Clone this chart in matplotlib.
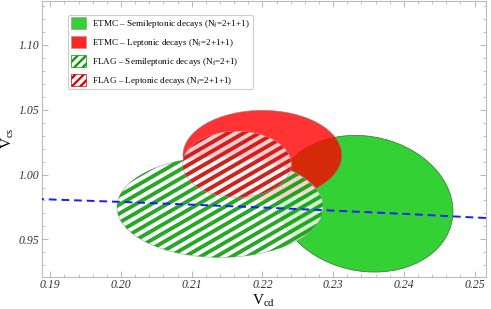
import numpy as np
import matplotlib
matplotlib.use("Agg")
import matplotlib.pyplot as plt
from matplotlib.patches import Ellipse, Patch
from matplotlib.collections import LineCollection
from matplotlib.transforms import Affine2D
from matplotlib.ticker import MultipleLocator

plt.rcParams['font.family'] = 'Liberation Serif'
plt.rcParams['mathtext.fontset'] = 'custom'
plt.rcParams['mathtext.rm'] = 'Liberation Serif'
plt.rcParams['mathtext.it'] = 'Liberation Serif:italic'
plt.rcParams['hatch.linewidth'] = 1.6

# regions: ETMC semileptonic, ETMC leptonic, FLAG semileptonic, FLAG leptonic
labels = [
    r'ETMC – Semileptonic decays (N$_{\rm f}$=2+1+1)',
    r'ETMC – Leptonic decays (N$_{\rm f}$=2+1+1)',
    r'FLAG – Semileptonic decays (N$_{\rm f}$=2+1)',
    r'FLAG – Leptonic decays (N$_{\rm f}$=2+1+1)',
]
centre_vcd = [0.2345, 0.2200, 0.2140, 0.2164]
centre_vcs = [0.9775, 1.0149, 0.9749, 1.0079]
half_vcd = [0.01245, 0.01124, 0.01457, 0.00768]
half_vcs = [0.0527, 0.0346, 0.0388, 0.0254]
corr = [-0.11, 0.0, 0.0, 0.0]

# unitarity curve
unit_vcd = [0.188, 0.19, 0.20, 0.21, 0.22, 0.23, 0.24, 0.25, 0.252]
unit_vcs = [0.9812, 0.9808, 0.9789, 0.9768, 0.9746, 0.9722, 0.9697, 0.9669, 0.9664]

green = '#33d133'
red = (1.0, 0.0, 0.0)
stripe_green = (0.0, 0.6, 0.0)
stripe_red = (0.8, 0.0, 0.0)


def region(ax, i, **kw):
    """Unit circle mapped onto the i-th error ellipse."""
    sx, sy, r = half_vcd[i], half_vcs[i], corr[i]
    m = Affine2D.from_values(sx, r*sy, 0, np.sqrt(1 - r**2)*sy, centre_vcd[i], centre_vcs[i])
    e = Ellipse((0, 0), 2, 2, transform=m + ax.transData, **kw)
    ax.add_patch(e)
    return e


def stripes(ax, patch, color, zorder, W=444., H=277., period=7.8, angle=30., lw=2.8):
    """Diagonal stripes clipped to patch (done in axes pixel frame)."""
    a = np.radians(angle)
    d = np.array([np.cos(a), np.sin(a)])
    n = np.array([-np.sin(a), np.cos(a)])
    c = np.array([W/2, H/2])
    L = np.hypot(W, H)
    segs = []
    for off in np.arange(-L, L, period):
        p = c + n*off
        segs.append([(p - d*L)/(W, H), (p + d*L)/(W, H)])
    lc = LineCollection(segs, colors=[color], linewidths=lw, alpha=0.85,
                        transform=ax.transAxes, zorder=zorder, capstyle='butt')
    ax.add_collection(lc)
    lc.set_clip_path(patch)


fig = plt.figure(figsize=(4.91, 3.09), dpi=100)
ax = fig.add_axes([0.0849, 0.1045, 0.9043, 0.8935])

region(ax, 0, facecolor=green, edgecolor='#3a6a3a', linewidth=0.5, zorder=1)
region(ax, 1, facecolor=red, alpha=0.8, edgecolor='#888888', linewidth=0.5, zorder=2)
e = region(ax, 2, facecolor='white', alpha=0.8, edgecolor='#aaaaaa', linewidth=0.6, zorder=3)
stripes(ax, e, stripe_green, 3.5)
e = region(ax, 3, facecolor='white', alpha=0.75, edgecolor='#aaaaaa', linewidth=0.6, zorder=4)
stripes(ax, e, stripe_red, 4.5)

ax.plot(unit_vcd, unit_vcs, color='#1a1aff', lw=1.4, dashes=(4, 2.5), zorder=6)

ax.set_xlim(0.18878, 0.25158)
ax.set_ylim(0.92123, 1.1341)
ax.xaxis.set_major_locator(MultipleLocator(0.01))
ax.xaxis.set_minor_locator(MultipleLocator(0.002))
ax.yaxis.set_major_locator(MultipleLocator(0.05))
ax.yaxis.set_minor_locator(MultipleLocator(0.01))
ax.xaxis.set_major_formatter(plt.FuncFormatter(lambda v, p: f'{v:.2f}'))
ax.yaxis.set_major_formatter(plt.FuncFormatter(lambda v, p: f'{v:.2f}'))
for s in ax.spines.values():
    s.set_color('#bbbbbb')
    s.set_linewidth(0.8)
ax.tick_params(which='both', direction='in', top=True, right=True, color='#aaaaaa',
               labelcolor='#333333', labelsize=8.5, pad=2)
ax.tick_params(which='major', length=4, width=0.6)
ax.tick_params(which='minor', length=2, width=0.5)
for t in ax.get_xticklabels() + ax.get_yticklabels():
    t.set_fontstyle('italic')

ax.set_xlabel(r'V$_{\rm cd}$', fontsize=11, labelpad=1)
ax.set_ylabel(r'V$_{\rm cs}$', fontsize=11, labelpad=2)

handles = [
    Patch(facecolor=green, edgecolor='#999999', linewidth=0.5),
    Patch(facecolor=red, alpha=0.85, edgecolor='#999999', linewidth=0.5),
    Patch(facecolor='white', edgecolor=stripe_green, hatch='////', linewidth=0.5),
    Patch(facecolor='white', edgecolor=stripe_red, hatch='////', linewidth=0.5),
]
leg = ax.legend(handles, labels, loc='upper left', bbox_to_anchor=(0.06, 0.949),
                fontsize=6.6, handlelength=1.64, handleheight=1.64, handletextpad=0.65,
                labelspacing=0.62, borderpad=0.3, borderaxespad=0, fancybox=True,
                framealpha=1, edgecolor='#cccccc')
leg.get_frame().set_linewidth(0.8)
leg.set_zorder(10)

fig.savefig('out.png', dpi=100)
